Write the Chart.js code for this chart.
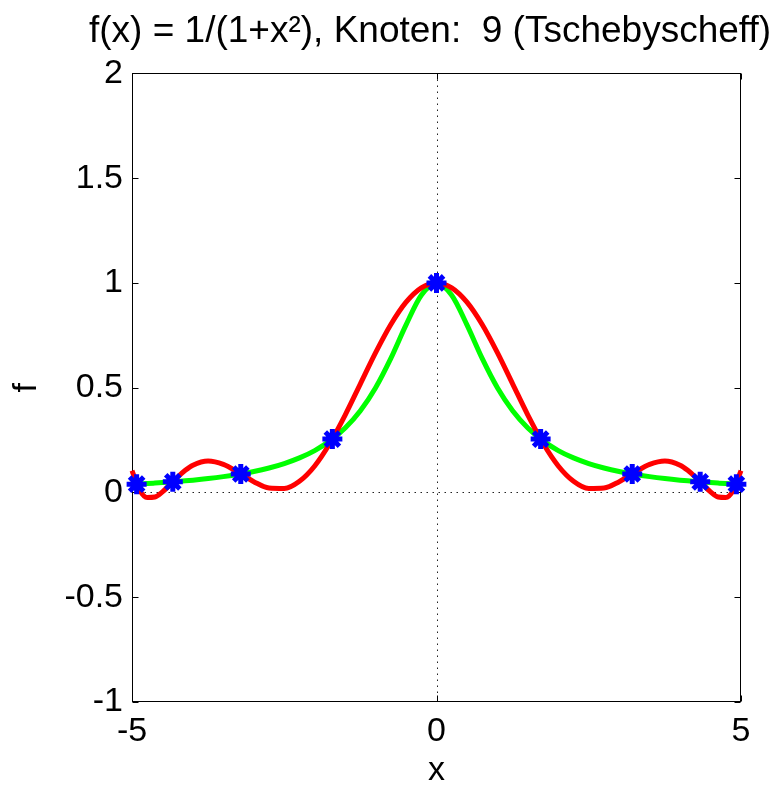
<!DOCTYPE html>
<html><head><meta charset="utf-8">
<script src="https://cdn.jsdelivr.net/npm/chart.js@4"></script>
<style>html,body{margin:0;padding:0;background:#fff}canvas{display:block}</style>
</head><body>
<canvas id="c" width="784" height="788"></canvas>
<script>
// sample positions along x
const xs = [-5, -4.875, -4.75, -4.625, -4.5, -4.375, -4.25, -4.125, -4, -3.75, -3.5, -3.25, -3, -2.75, -2.5, -2.25, -2, -1.75, -1.5, -1.25, -1, -0.75, -0.5, -0.25,
  0, 0.25, 0.5, 0.75, 1, 1.25, 1.5, 1.75, 2, 2.25, 2.5, 2.75, 3, 3.25, 3.5, 3.75, 4, 4.125, 4.25, 4.375, 4.5, 4.625, 4.75, 4.875, 5];
// green: f(x) = 1/(1+x^2)
const fValues = [0.0385, 0.0404, 0.0424, 0.0447, 0.0471, 0.0497, 0.0525, 0.0555, 0.0588, 0.0664, 0.0755, 0.0865, 0.1, 0.1168, 0.1379, 0.1649, 0.2, 0.2462, 0.3077, 0.3902, 0.5, 0.64, 0.8, 0.9412,
  1, 0.9412, 0.8, 0.64, 0.5, 0.3902, 0.3077, 0.2462, 0.2, 0.1649, 0.1379, 0.1168, 0.1, 0.0865, 0.0755, 0.0664, 0.0588, 0.0555, 0.0525, 0.0497, 0.0471, 0.0447, 0.0424, 0.0404, 0.0385];
// red: interpolation polynomial
const pValues = [0.1046, 0.0112, -0.0242, -0.0217, 0.0028, 0.0374, 0.0737, 0.1058, 0.1302, 0.1500, 0.1337, 0.0947, 0.0513, 0.0214, 0.0193, 0.0536, 0.1266, 0.2348, 0.3694, 0.5183, 0.6671, 0.8014, 0.9080, 0.9764,
  1, 0.9764, 0.9080, 0.8014, 0.6671, 0.5183, 0.3694, 0.2348, 0.1266, 0.0536, 0.0193, 0.0214, 0.0513, 0.0947, 0.1337, 0.1500, 0.1302, 0.1058, 0.0737, 0.0374, 0.0028, -0.0217, -0.0242, 0.0112, 0.1046];
// blue: Chebyshev nodes
const nodeX = [-4.924, -4.330, -3.214, -1.710, 0, 1.710, 3.214, 4.330, 4.924];
const nodeY = [0.0396, 0.0506, 0.0883, 0.2548, 1, 0.2548, 0.0883, 0.0506, 0.0396];

const xTicks = [-5, 0, 5];
const xTickLabels = ['-5', '0', '5'];
const yTicks = [-1, -0.5, 0, 0.5, 1, 1.5, 2];
const yTickLabels = ['-1', '-0.5', '0', '0.5', '1', '1.5', '2'];
const titleText = 'f(x) = 1/(1+x\u00B2), Knoten:  9 (Tschebyscheff)';
const xLabel = 'x';
const yLabel = 'f';

const FONT = "'Liberation Sans', Arial, Helvetica, sans-serif";
Chart.defaults.font.family = FONT;
Chart.defaults.color = '#000';
const TICK_SIZE = 34;

// widest y tick label (used to right-align mirrored labels outside the plot)
const mctx = document.createElement('canvas').getContext('2d');
mctx.font = 'normal ' + TICK_SIZE + 'px ' + FONT;
const widestY = Math.max(...yTickLabels.map(s => mctx.measureText(s).width));

const toPts = (xa, ya) => xa.map((v, i) => ({x: v, y: ya[i]}));

const framePlugin = {
  id: 'frame',
  beforeDatasetsDraw(chart) {
    const {ctx, chartArea: a, scales} = chart;
    const x = scales.x, y = scales.y;
    const L = Math.round(a.left) + 0.5, R = Math.round(a.right) - 0.5;
    const T = Math.round(a.top) + 0.5, B = Math.round(a.bottom) - 0.5;
    ctx.save();
    ctx.strokeStyle = '#222';
    ctx.lineWidth = 1;
    ctx.setLineDash([1.5, 4.5]);
    const x0 = Math.round(x.getPixelForValue(0)) + 0.5;
    const y0 = Math.round(y.getPixelForValue(0)) + 0.5;
    ctx.beginPath();
    ctx.moveTo(x0, T); ctx.lineTo(x0, B);
    ctx.moveTo(L, y0); ctx.lineTo(R, y0);
    ctx.stroke();
    ctx.setLineDash([]);
    ctx.strokeStyle = '#000';
    ctx.strokeRect(L, T, R - L, B - T);
    const tl = 6;
    ctx.beginPath();
    yTicks.forEach(v => {
      const p = Math.round(y.getPixelForValue(v)) + 0.5;
      ctx.moveTo(L, p); ctx.lineTo(L + tl, p);
      ctx.moveTo(R, p); ctx.lineTo(R - tl, p);
    });
    xTicks.forEach(v => {
      const p = Math.round(x.getPixelForValue(v)) + 0.5;
      ctx.moveTo(p, B); ctx.lineTo(p, B - tl);
      ctx.moveTo(p, T); ctx.lineTo(p, T + tl);
    });
    ctx.stroke();
    ctx.restore();
  }
};

new Chart(document.getElementById('c'), {
  type: 'scatter',
  data: {
    datasets: [
      {
        label: 'Knoten',
        data: toPts(nodeX, nodeY),
        showLine: false,
        pointStyle: 'star',
        pointRadius: 10,
        pointBorderWidth: 5,
        borderColor: '#0000FF',
        backgroundColor: '#0000FF',
        clip: false,
        order: 0
      },
      {
        label: 'Interpolation',
        data: toPts(xs, pValues),
        showLine: true,
        borderColor: '#FF0000',
        borderWidth: 5,
        pointRadius: 0,
        cubicInterpolationMode: 'monotone',
        clip: false,
        order: 1
      },
      {
        label: 'f',
        data: toPts(xs, fValues),
        showLine: true,
        borderColor: '#00FF00',
        borderWidth: 5,
        pointRadius: 0,
        cubicInterpolationMode: 'monotone',
        clip: false,
        order: 2
      }
    ]
  },
  options: {
    responsive: false,
    devicePixelRatio: 1,
    animation: false,
    layout: {padding: {left: 76, right: 0, top: 0, bottom: 0}},
    plugins: {
      legend: {display: false},
      tooltip: {enabled: false},
      title: {
        display: true,
        text: titleText,
        color: '#000',
        font: {size: 37, weight: 'normal', lineHeight: 1.2},
        padding: {top: 10, bottom: 19}
      }
    },
    scales: {
      x: {
        type: 'linear',
        min: -5, max: 5,
        afterBuildTicks: s => { s.ticks = xTicks.map(v => ({value: v})); },
        afterFit: s => { s.height = 86; },
        grid: {display: false, drawTicks: false},
        border: {display: false},
        ticks: {
          font: {size: TICK_SIZE},
          padding: 9,
          maxRotation: 0,
          autoSkip: false,
          callback: v => xTickLabels[xTicks.indexOf(v)]
        },
        title: {display: true, text: xLabel, font: {size: 34, lineHeight: 1.0}, padding: {top: 0, bottom: 0}}
      },
      y: {
        type: 'linear',
        position: 'left',
        min: -1, max: 2,
        afterBuildTicks: s => { s.ticks = yTicks.map(v => ({value: v})); },
        afterFit: s => { s.width = 56; },
        grid: {display: false, drawTicks: false},
        border: {display: false},
        ticks: {
          font: {size: TICK_SIZE},
          mirror: true,
          crossAlign: 'far',
          padding: -(9 + widestY),
          autoSkip: false,
          callback: v => yTickLabels[yTicks.indexOf(v)]
        },
        title: {display: true, text: yLabel, font: {size: 34, lineHeight: 1}, padding: {top: -66, bottom: 0}}
      },
      yRight: {
        type: 'linear',
        position: 'right',
        min: -1, max: 2,
        afterFit: s => { s.width = 43; },
        grid: {display: false, drawTicks: false},
        border: {display: false},
        ticks: {display: false}
      }
    }
  },
  plugins: [framePlugin]
});
</script>
</body></html>
